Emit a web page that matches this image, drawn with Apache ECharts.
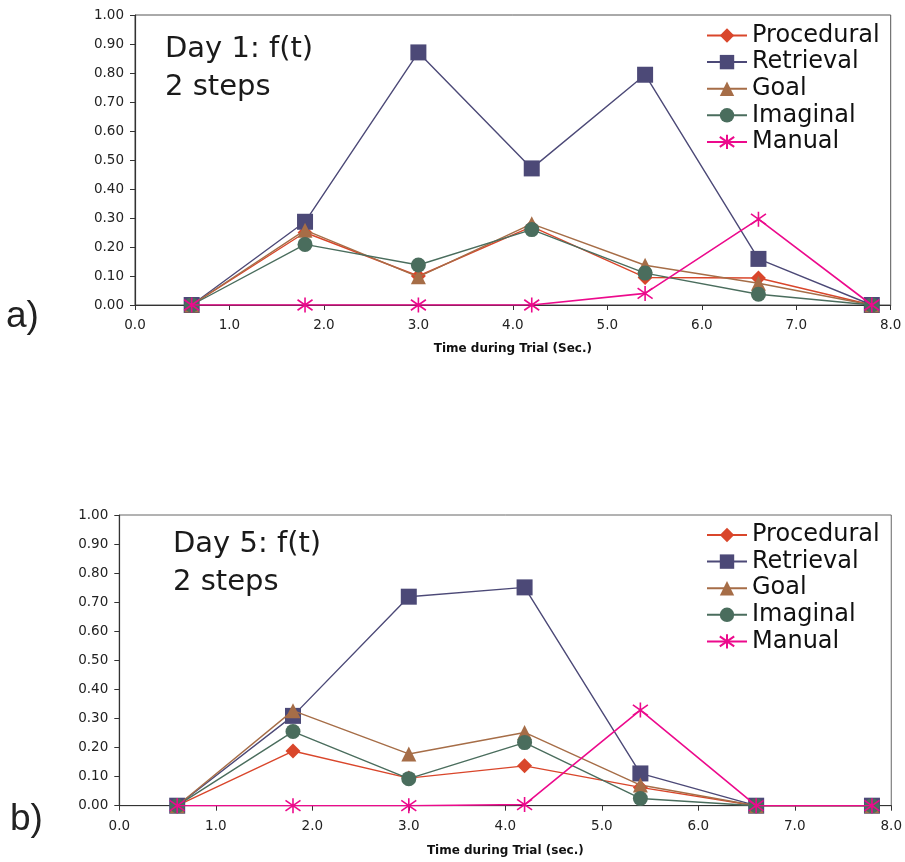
<!DOCTYPE html>
<html><head><meta charset="utf-8">
<script src="https://cdn.jsdelivr.net/npm/echarts@6/dist/echarts.min.js"></script>
<style>html,body{margin:0;padding:0;background:#fff}#c{width:905px;height:862px}</style>
</head><body><div id="c"></div>
<script>
var times = [0.6, 1.8, 3.0, 4.2, 5.4, 6.6, 7.8];
var seriesNames = ['Procedural', 'Retrieval', 'Goal', 'Imaginal', 'Manual'];
// Day 1
var day1Procedural = [0, 0.25, 0.10, 0.27, 0.095, 0.093, 0];
var day1Retrieval  = [0, 0.287, 0.871, 0.471, 0.794, 0.159, 0];
var day1Goal       = [0, 0.258, 0.097, 0.28, 0.137, 0.075, 0];
var day1Imaginal   = [0, 0.209, 0.138, 0.26, 0.11, 0.037, 0];
var day1Manual     = [0, 0, 0, 0, 0.04, 0.296, 0];
// Day 5
var day5Procedural = [0, 0.188, 0.095, 0.137, 0.063, 0, 0];
var day5Retrieval  = [0, 0.309, 0.719, 0.751, 0.111, 0, 0];
var day5Goal       = [0, 0.327, 0.178, 0.252, 0.071, 0, 0];
var day5Imaginal   = [0, 0.255, 0.093, 0.217, 0.025, 0, 0];
var day5Manual     = [0, 0, 0, 0.004, 0.329, 0, 0];
var yTicks = [0,0.1,0.2,0.3,0.4,0.5,0.6,0.7,0.8,0.9,1.0];
var xTicks = [0,1,2,3,4,5,6,7,8];

var colors = {Procedural:'#d9462b', Retrieval:'#4c4977', Goal:'#a66d47', Imaginal:'#4a6d5d', Manual:'#ec0a8c'};
var symbols = {Procedural:'diamond', Retrieval:'rect', Goal:'triangle', Imaginal:'circle',
  Manual:'path://M10,0L10,20M0,3L20,17M0,17L20,3'};
var sizes = {Procedural:15, Retrieval:16, Goal:15, Imaginal:15, Manual:15};

function pairs(vals){ return times.map(function(t,i){ return [t, vals[i]]; }); }

var font = 'DejaVu Sans';
var day1 = [day1Procedural, day1Retrieval, day1Goal, day1Imaginal, day1Manual];
var day5 = [day5Procedural, day5Retrieval, day5Goal, day5Imaginal, day5Manual];

var series = [];
[day1, day5].forEach(function(set, gi){
  seriesNames.forEach(function(n, k){
    var isM = n === 'Manual';
    series.push({
      name: n, type: 'line', xAxisIndex: gi, yAxisIndex: gi,
      data: pairs(set[k]), symbol: symbols[n], symbolSize: sizes[n], showSymbol: true,
      lineStyle: {color: colors[n], width: isM ? 1.6 : 1.4},
      itemStyle: isM ? {color: colors[n], borderColor: colors[n], borderWidth: 1.6} : {color: colors[n]},
      emphasis: {disabled: true}, z: 2 + k
    });
  });
});

function yAxis(gi){
  return {type:'value', gridIndex: gi, min:0, max:1, interval:0.1,
    axisLine:{show:true, lineStyle:{color:'#333', width:1.2}},
    axisTick:{show:true, inside:false, length:5, lineStyle:{color:'#333'}},
    splitLine:{show:false},
    axisLabel:{fontFamily:font, fontSize:13.5, color:'#222', margin:11, formatter:function(v){return v.toFixed(2);}}};
}
function xAxis(gi, name, gap, margin){
  return {type:'value', gridIndex: gi, min:0, max:8, interval:1,
    name:name, nameLocation:'middle', nameGap:gap,
    nameTextStyle:{fontFamily:font, fontSize:12, fontWeight:'bold', color:'#111'},
    axisLine:{show:true, onZero:false, lineStyle:{color:'#333', width:1.2}},
    axisTick:{show:true, length:5, lineStyle:{color:'#333'}},
    splitLine:{show:false},
    axisLabel:{fontFamily:font, fontSize:13.5, color:'#222', margin:margin, formatter:function(v){return v.toFixed(1);}}};
}
function legend(gi, top){
  return {gridIndex: gi, orient:'vertical', left:706, top:top, padding:0, itemGap:2.6,
    itemWidth:40, itemHeight:18, backgroundColor:'#fff',
    data: seriesNames, selectedMode:false,
    textStyle:{fontFamily:font, fontSize:24, color:'#111', lineHeight:24}};
}

var chart = echarts.init(document.getElementById('c'), null, {renderer:'canvas'});
chart.setOption({
  animation:false,
  backgroundColor:'#fff',
  grid:[
    {left:135, top:15, width:755.7, height:290, show:true, borderColor:'#555', borderWidth:1, backgroundColor:'transparent'},
    {left:119.3, top:515, width:774, height:290.7, show:true, borderColor:'#666', borderWidth:1, backgroundColor:'transparent'}
  ],
  xAxis:[xAxis(0,'Time during Trial (Sec.)', 38, 13), xAxis(1,'Time during Trial (sec.)', 39, 14)],
  yAxis:[yAxis(0), yAxis(1)],
  legend:[legend(0, 23.5), legend(1, 523)],
  series: series,
  graphic:[
    {type:'text', left:165, top:30, style:{text:'Day 1: f(t)\n2 steps', fontFamily:font, fontSize:29, lineHeight:38, fill:'#1a1a1a'}},
    {type:'text', left:173, top:525, style:{text:'Day 5: f(t)\n2 steps', fontFamily:font, fontSize:29, lineHeight:38, fill:'#1a1a1a'}},
    {type:'text', left:6, top:298, style:{text:'a)', fontFamily:'Liberation Sans', fontSize:37, fill:'#222'}},
    {type:'text', left:10, top:801, style:{text:'b)', fontFamily:'Liberation Sans', fontSize:37, fill:'#222'}}
  ]
});
</script></body></html>
